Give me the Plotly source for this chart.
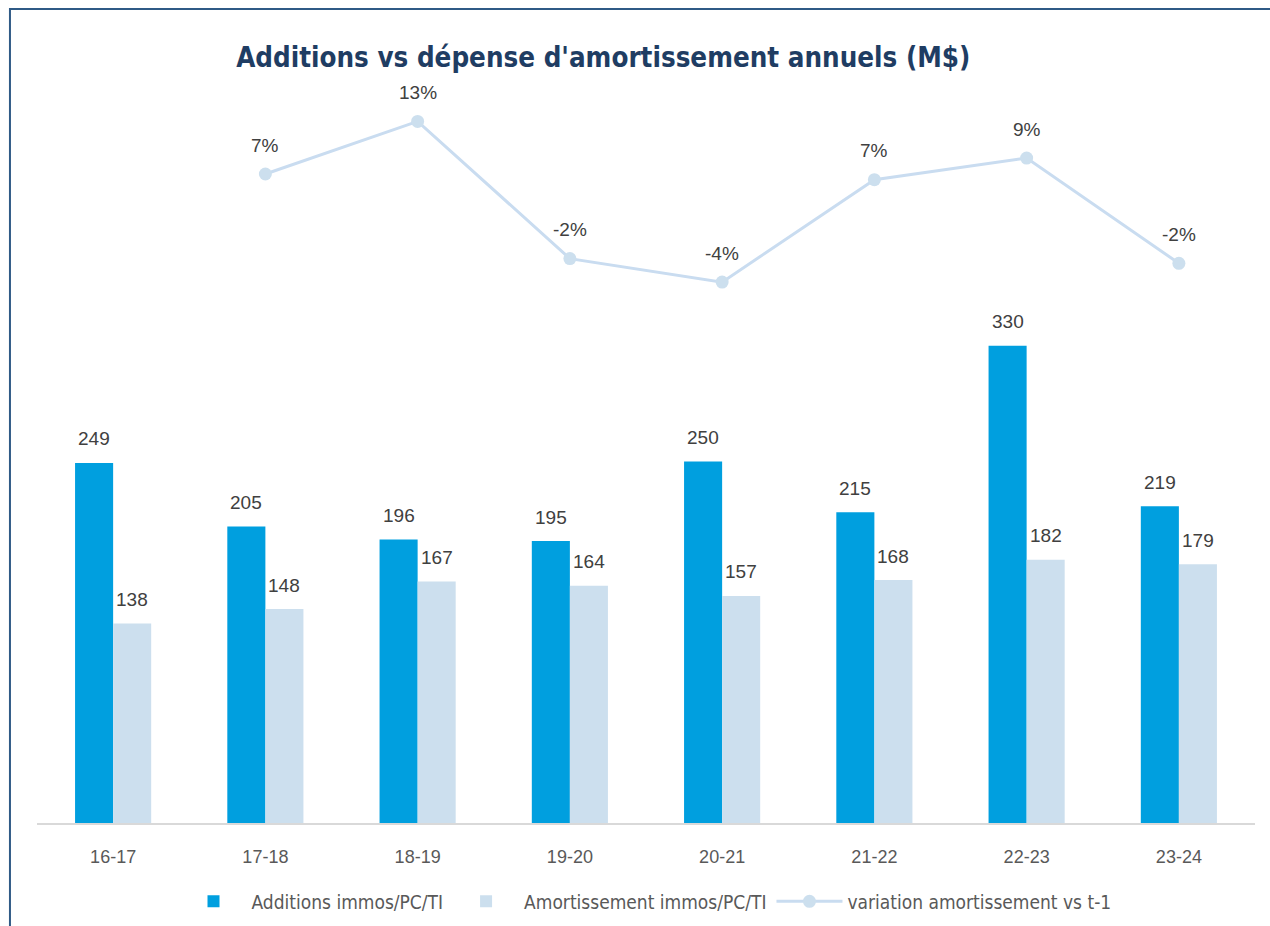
import plotly.graph_objects as go

categories = ["16-17", "17-18", "18-19", "19-20", "20-21", "21-22", "22-23", "23-24"]
additions = [249, 205, 196, 195, 250, 215, 330, 219]
amortissement = [138, 148, 167, 164, 157, 168, 182, 179]
variation = [None, 0.072, 0.128, -0.018, -0.043, 0.066, 0.089, -0.023]

BLUE = "#009FDF"
LIGHT = "#CCDFEE"
LINE = "#C9DCF0"
TXT = "#404040"
COND = "DejaVu Sans Condensed, Liberation Sans Narrow, Roboto, sans-serif"

fig = go.Figure()
fig.add_trace(go.Bar(x=categories, y=additions, name="Additions immos/PC/TI",
                     marker_color=BLUE, marker_line_width=0))
fig.add_trace(go.Bar(x=categories, y=amortissement, name="Amortissement immos/PC/TI",
                     marker_color=LIGHT, marker_line_width=0))
fig.add_trace(go.Scatter(x=categories, y=variation, name="variation amortissement vs t-1",
                         yaxis="y2", mode="lines+markers",
                         line=dict(color=LINE, width=3),
                         marker=dict(color=LIGHT, size=13)))

lab_font = dict(size=19, color=TXT, family="Liberation Sans")
annotations = []
for c, v in zip(categories, additions):
    annotations.append(dict(x=c, y=v, xref="x", yref="y", text=str(v), showarrow=False,
                            xshift=-19, yshift=24, font=lab_font))
for c, v in zip(categories, amortissement):
    annotations.append(dict(x=c, y=v, xref="x", yref="y", text=str(v), showarrow=False,
                            xshift=19, yshift=24, font=lab_font))
for c, v in zip(categories, variation):
    if v is None:
        continue
    annotations.append(dict(x=c, y=v, xref="x", yref="y2", text=f"{round(v*100):.0f}%",
                            showarrow=False, yshift=29, font=lab_font))

fig.update_layout(
    width=1270, height=926,
    margin=dict(l=37, r=15, t=60, b=103, autoexpand=False),
    paper_bgcolor="white", plot_bgcolor="white",
    barmode="group", bargap=0.5, bargroupgap=0,
    title=dict(text="<b>Additions vs dépense d'amortissement annuels (M$)</b>",
               x=0.475, xanchor="center", y=0.938, yanchor="middle",
               font=dict(family=COND, size=27.5, color="#1F3D63")),
    xaxis=dict(showline=True, linecolor="#D9D9D9", linewidth=2, ticks="",
               tickfont=dict(size=18, color="#595959", family="Liberation Sans"),
               ticklabelstandoff=16,
               showgrid=False, zeroline=False),
    yaxis=dict(range=[0, 527.7], visible=False, showgrid=False, zeroline=False),
    yaxis2=dict(range=[-0.6184, 0.1933], overlaying="y", side="right", visible=False,
                showgrid=False, zeroline=False),
    legend=dict(orientation="h", x=0.5, xanchor="center", y=-0.078, yanchor="top",
                font=dict(family=COND, size=19, color="#595959"),
                itemwidth=66, tracegroupgap=0),
    annotations=annotations,
    shapes=[dict(type="rect", xref="paper", yref="paper",
                 x0=-0.0222, x1=1.1, y0=-0.3, y1=1.0668,
                 line=dict(color="#2F5A86", width=2), layer="above")],
    showlegend=True,
)

fig.write_html("out.html")
